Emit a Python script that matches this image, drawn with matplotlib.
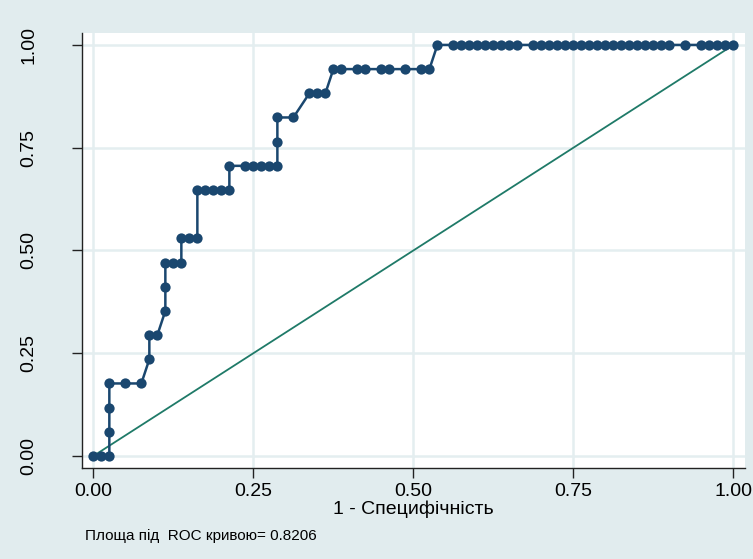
import matplotlib
matplotlib.use("Agg")
import matplotlib.pyplot as plt
from matplotlib import font_manager

# ---- data (counts: 80 negatives, 17 positives) ----
n_negative = 80
n_positive = 17
false_pos = [0, 1, 2, 2, 2, 2, 4, 6, 7, 7, 8, 9, 9, 9, 10, 11, 11, 12, 13, 13,
             14, 15, 16, 17, 17, 19, 20, 21, 22, 23, 23, 23, 25, 27, 28, 29, 30, 31,
             33, 34, 36, 37, 39, 41, 42, 43, 45, 46, 47, 48, 49, 50, 51, 52, 53,
             55, 56, 57, 58, 59, 60, 61, 62, 63, 64, 65, 66, 67, 68, 69, 70, 71, 72,
             74, 76, 77, 78, 79, 80]
true_pos = [0, 0, 0, 1, 2, 3, 3, 3, 4, 5, 5, 6, 7, 8, 8, 8, 9, 9, 9, 11,
            11, 11, 11, 11, 12, 12, 12, 12, 12, 12, 13, 14, 14, 15, 15, 15, 16, 16,
            16, 16, 16, 16, 16, 16, 16, 17, 17, 17, 17, 17, 17, 17, 17, 17, 17,
            17, 17, 17, 17, 17, 17, 17, 17, 17, 17, 17, 17, 17, 17, 17, 17, 17, 17,
            17, 17, 17, 17, 17, 17]
ticks = [0.0, 0.25, 0.5, 0.75, 1.0]
tick_labels = ["0.00", "0.25", "0.50", "0.75", "1.00"]
x_title = "1 - Специфічність"
note = "Площа під  ROC кривою= 0.8206"

avail = {f.name for f in font_manager.fontManager.ttflist}
fam = ["Liberation Sans", "DejaVu Sans"]
fam = [f for f in fam if f in avail] or ["DejaVu Sans"]
plt.rcParams["font.family"] = fam

bg = "#e1ecee"
grid_c = "#e4eef0"
navy = "#1a476f"
green = "#1f7a68"

fig = plt.figure(figsize=(7.53, 5.59), dpi=100, facecolor=bg)
W, H = 753, 559
left_px, right_px, top_px, bottom_px = 82, 745, 33, 468
ax = fig.add_axes([left_px / W, 1 - bottom_px / H,
                   (right_px - left_px) / W, (bottom_px - top_px) / H])
ax.set_facecolor("white")

x = [v / n_negative for v in false_pos]
y = [v / n_positive for v in true_pos]

ax.plot([0, 1], [0, 1], color=green, lw=1.3, zorder=2)
ax.plot(x, y, color=navy, lw=1.8, marker="o", markersize=7.4,
        markeredgewidth=0, zorder=3)

ax.set_xlim(-0.0177, 1.018)
ax.set_ylim(-0.0292, 1.029)
ax.set_xticks(ticks)
ax.set_xticklabels(tick_labels)
ax.set_yticks(ticks)
ax.set_yticklabels(tick_labels, rotation=90, va="center")
ax.grid(True, color=grid_c, lw=1.8, zorder=0)
ax.set_axisbelow(True)

for s in ["top", "right"]:
    ax.spines[s].set_visible(False)
for s in ["left", "bottom"]:
    ax.spines[s].set_color("#222222")
    ax.spines[s].set_linewidth(1.0)

ax.tick_params(axis="x", direction="out", length=7, width=1.0, color="#222222",
               labelsize=14, pad=4)
ax.tick_params(axis="y", direction="out", length=7, width=1.0, color="#222222",
               labelsize=14, pad=25)

ax.set_xlabel(x_title, fontsize=14, labelpad=0)
fig.text(85 / W, 1 - 536 / H, note, fontsize=11, ha="left", va="center")

fig.savefig("out.png", dpi=100, facecolor=bg)
